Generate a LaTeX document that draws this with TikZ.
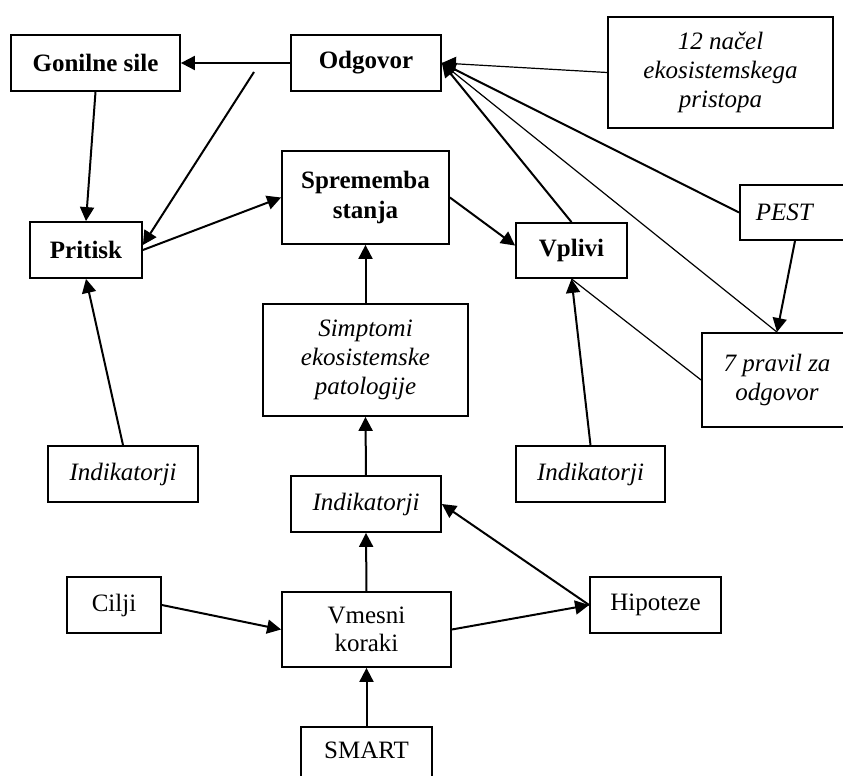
\documentclass[tikz,border=0pt]{standalone}
\usepackage{fontspec}
\setmainfont{Liberation Serif}
\usetikzlibrary{arrows.meta,calc}
\tikzset{box/.style={draw,line width=0.9pt,align=center,inner sep=0pt},
concept/.style={box,font=\fontsize{12.5pt}{15pt}\selectfont\bfseries},
tool/.style={box,font=\fontsize{12.5pt}{14.5pt}\selectfont\itshape},
stage/.style={box,font=\fontsize{12.5pt}{14pt}\selectfont},
arr/.style={-{Triangle[length=7pt,width=7pt]},line width=1pt},
weak/.style={line width=0.6pt}}

\begin{document}
\begin{tikzpicture}[x=0.5pt,y=-0.5pt]
\useasboundingbox (0,0) rectangle (843,776);
\node[concept,minimum width=84.5pt,minimum height=28pt] (gonilne) at (95.5,63) {Gonilne sile};
\node[concept,minimum width=75pt,minimum height=28pt] (odgovor) at (366,63) {Odgovor};
\node[tool,minimum width=112.5pt,minimum height=55.5pt] (nacela) at (720.5,72.5) {12 načel\\ekosistemskega\\pristopa};
\node[concept,minimum width=83.5pt,minimum height=46.5pt] (sprememba) at (365.5,197.5) {Sprememba\\stanja};
\node[concept,minimum width=56pt,minimum height=28pt] (pritisk) at (86,250) {Pritisk};
\node[concept,minimum width=55.5pt,minimum height=27.5pt] (vplivi) at (571.5,250.5) {Vplivi};
\node[tool,anchor=west,text width=50pt,align=left,inner xsep=8pt,minimum height=27.5pt] (pest) at (739,212.5) {PEST};
\node[tool,minimum width=75pt,minimum height=47pt] (pravila) at (777,380) {7 pravil za\\odgovor};
\node[tool,minimum width=102.5pt,minimum height=56pt] (simptomi) at (365.5,360) {Simptomi\\ekosistemske\\patologije};
\node[tool,minimum width=75pt,minimum height=28pt] (indpritisk) at (123,474) {Indikatorji};
\node[tool,minimum width=75pt,minimum height=28pt] (indstanje) at (366,504) {Indikatorji};
\node[tool,minimum width=74.5pt,minimum height=28pt] (indvplivi) at (590.5,474) {Indikatorji};
\node[stage,minimum width=47pt,minimum height=28pt] (cilji) at (114,605) {Cilji};
\node[stage,minimum width=84.5pt,minimum height=37.5pt] (koraki) at (366.5,629.5) {Vmesni\\koraki};
\node[stage,minimum width=65.5pt,minimum height=28pt] (hipoteze) at (655.5,605) {Hipoteze};
\node[stage,anchor=north,minimum width=65.5pt,text height=9pt,text depth=20pt,inner ysep=7pt] (smart) at (366.5,726) {SMART};
\coordinate (odgrep) at (254,72);

\draw[arr] (odgovor.west) -- (gonilne.east);
\draw[arr] (gonilne.south) -- (pritisk.north);
\draw[arr] (odgrep) -- (pritisk.5);
\draw[arr] (pritisk.east) -- (sprememba.west);
\draw[arr] (sprememba.east) -- (vplivi.175);
\draw[arr,weak] (nacela.west) -- (odgovor.east);
\draw[arr] (pest.west) -- (odgovor.east);
\draw[weak] (pravila.north) -- (odgovor.east);
\draw[arr] (vplivi.north) -- (odgovor.east);
\draw[weak] (pravila.west) -- (vplivi.south);
\draw[arr] ($(pest.south west)+(56,0)$) -- (pravila.north);
\draw[arr] (simptomi.north) -- (sprememba.south);
\draw[arr] (indpritisk.north) -- (pritisk.south);
\draw[arr] (indvplivi.north) -- (vplivi.south);
\draw[arr] (indstanje.north) -- (simptomi.south);
\draw[arr] (koraki.north) -- (indstanje.south);
\draw[arr] (smart.north) -- (koraki.south);
\draw[arr] (cilji.east) -- (koraki.west);
\draw[arr] (koraki.east) -- (hipoteze.west);
\draw[arr] (hipoteze.west) -- (indstanje.east);
\end{tikzpicture}
\end{document}
